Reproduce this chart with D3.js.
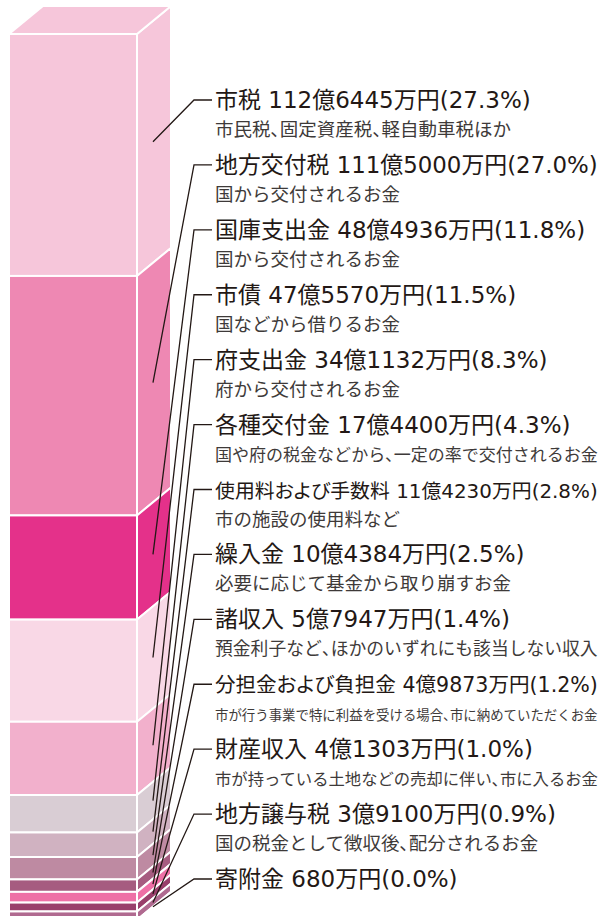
<!DOCTYPE html>
<html>
<head>
<meta charset="utf-8">
<script src="https://cdn.jsdelivr.net/npm/d3@7"></script>
<style>
  body { margin: 0; background: #fff; }
  svg { display: block; }
  text.title, tspan.comma { font-feature-settings: "palt"; }
</style>
</head>
<body>
<script>
// 歳入の内訳（万円）
const names = ["市税", "地方交付税", "国庫支出金", "市債", "府支出金", "各種交付金",
    "使用料および手数料", "繰入金", "諸収入", "分担金および負担金", "財産収入", "地方譲与税", "寄附金"];
const values = [1126445, 1115000, 484936, 475570, 341132, 174400,
    114230, 104384, 57947, 49873, 41303, 39100, 680];
const percents = [27.3, 27.0, 11.8, 11.5, 8.3, 4.3, 2.8, 2.5, 1.4, 1.2, 1.0, 0.9, 0.0];
const notes = ["市民税、固定資産税、軽自動車税ほか", "国から交付されるお金", "国から交付されるお金",
    "国などから借りるお金", "府から交付されるお金", "国や府の税金などから、一定の率で交付されるお金",
    "市の施設の使用料など", "必要に応じて基金から取り崩すお金", "預金利子など、ほかのいずれにも該当しない収入",
    "市が行う事業で特に利益を受ける場合、市に納めていただくお金", "市が持っている土地などの売却に伴い、市に入るお金",
    "国の税金として徴収後、配分されるお金", ""];
const colors = ["#f6c6da", "#ee88b3", "#e4318a", "#f9d8e6", "#f2b0cc", "#d9cdd4",
    "#d0b2c1", "#be8aa2", "#a65c80", "#ee70a6", "#993f6b", "#b06a90", "#a0507c"];

const width = 600, height = 916;
const total = d3.sum(values);

// stacked positions
let acc = 0;
const data = names.map((name, i) => {
    const d = { name, value: values[i], pct: percents[i], note: notes[i], color: colors[i], y0: acc, y1: acc + values[i] };
    acc += values[i];
    return d;
});

const svg = d3.select("body").append("svg")
    .attr("width", width)
    .attr("height", height);

// bar geometry
const x0 = 9, x1 = 137;
const dx = 34, dy = -28;
const y = d3.scaleLinear().domain([0, total]).range([34, 920]);

const bar = svg.append("g");

// side faces
bar.selectAll("path.side")
    .data(data)
    .join("path")
    .attr("class", "side")
    .attr("fill", d => d.color)
    .attr("stroke", "#fff")
    .attr("stroke-width", 2)
    .attr("stroke-linejoin", "round")
    .attr("d", d => {
        const ya = y(d.y0), yb = y(d.y1);
        return `M${x1},${ya}L${x1 + dx},${ya + dy}L${x1 + dx},${yb + dy}L${x1},${yb}Z`;
    });

// front faces
bar.selectAll("rect.front")
    .data(data)
    .join("rect")
    .attr("class", "front")
    .attr("x", x0)
    .attr("y", d => y(d.y0))
    .attr("width", x1 - x0)
    .attr("height", d => y(d.y1) - y(d.y0))
    .attr("fill", d => d.color)
    .attr("stroke", "#fff")
    .attr("stroke-width", 2);

// top face
bar.append("path")
    .attr("fill", colors[0])
    .attr("stroke", "#fff")
    .attr("stroke-width", 2)
    .attr("d", `M${x0},${y(0)}L${x0 + dx},${y(0) + dy}L${x1 + dx},${y(0) + dy}L${x1},${y(0)}Z`);

// labels
const labelY = d3.scalePoint().domain(names).range([108, 887]);
const fmt = v => {
    const oku = Math.floor(v / 10000), man = v % 10000;
    return (oku > 0 ? oku + "億" : "") + man + "万円";
};
const pct = d3.format(".1f");
const maxW = 383;

// shrink a text to fit the space right of the bar
function fit(size) {
    return function() {
        const w = this.getComputedTextLength();
        if (w > maxW) d3.select(this).attr("font-size", size * maxW / w);
    };
}

const labels = svg.append("g");

const item = labels.selectAll("g")
    .data(data)
    .join("g");

item.append("text")
    .attr("class", "title")
    .attr("x", 215)
    .attr("y", d => labelY(d.name))
    .attr("font-family", "'DejaVu Sans', 'Noto Sans CJK JP', sans-serif")
    .attr("font-size", 23)
    .attr("fill", "#231815")
    .text(d => `${d.name} ${fmt(d.value)}(${pct(d.pct)}%)`)
    .each(fit(23));

// note line, with narrow 、
const notesText = item.append("text")
    .attr("x", 215)
    .attr("y", d => labelY(d.name) + 28)
    .attr("font-family", "'Noto Sans CJK JP', sans-serif")
    .attr("font-size", 18.5)
    .attr("fill", "#3e3a39");

notesText.selectAll("tspan")
    .data(d => d.note.split(/(、)/).filter(s => s.length))
    .join("tspan")
    .attr("class", s => s === "、" ? "comma" : null)
    .text(s => s);

notesText.each(fit(18.5));

// leader lines
const t = 0.47;
item.append("path")
    .attr("fill", "none")
    .attr("stroke", "#231815")
    .attr("stroke-width", 1.3)
    .attr("d", d => {
        const ty = labelY(d.name) - 8;
        const ex = x1 + dx * t;
        const ey = y((d.y0 + d.y1) / 2) + dy * t;
        return `M212,${ty}L194,${ty}L${ex},${ey}`;
    });
</script>
</body>
</html>
